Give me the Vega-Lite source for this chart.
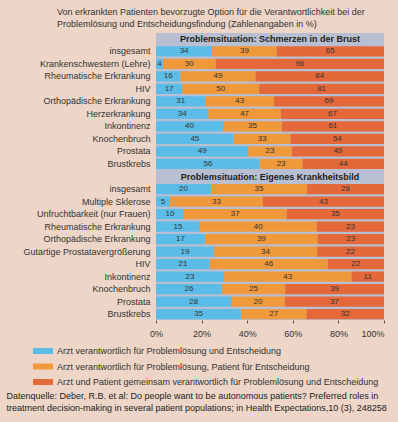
{
  "$schema": "https://vega.github.io/schema/vega-lite/v6.json",
  "width": 228,
  "height": 287,
  "autosize": {"type": "none"},
  "padding": {"left": 156, "top": 33, "right": 14, "bottom": 102},
  "background": "#edd5c7",
  "config": {"font": "Liberation Sans", "view": {"fill": "#b8bfd2", "stroke": null}},
  "title": {
    "text": ["Von erkrankten Patienten bevorzugte Option für die Verantwortlichkeit bei der", "Problemlösung und Entscheidungsfindung (Zahlenangaben in %)"],
    "anchor": "start",
    "frame": "group",
    "dx": -99,
    "fontSize": 9,
    "fontWeight": "normal",
    "color": "#333",
    "offset": 4,
    "lineHeight": 12
  },
  "layer": [
    {
      "data": {"values": [
        {"g": "1|insgesamt", "a": 34, "b": 39, "c": 65},
        {"g": "1|Krankenschwestern (Lehre)", "a": 4, "b": 30, "c": 96},
        {"g": "1|Rheumatische Erkrankung", "a": 16, "b": 49, "c": 84},
        {"g": "1|HIV", "a": 17, "b": 50, "c": 81},
        {"g": "1|Orthopädische Erkrankung", "a": 31, "b": 43, "c": 69},
        {"g": "1|Herzerkrankung", "a": 34, "b": 47, "c": 67},
        {"g": "1|Inkontinenz", "a": 40, "b": 35, "c": 61},
        {"g": "1|Knochenbruch", "a": 45, "b": 33, "c": 54},
        {"g": "1|Prostata", "a": 49, "b": 23, "c": 49},
        {"g": "1|Brustkrebs", "a": 56, "b": 23, "c": 44},
        {"g": "2|insgesamt", "a": 20, "b": 35, "c": 28},
        {"g": "2|Multiple Sklerose", "a": 5, "b": 33, "c": 43},
        {"g": "2|Unfruchtbarkeit (nur Frauen)", "a": 10, "b": 37, "c": 35},
        {"g": "2|Rheumatische Erkrankung", "a": 15, "b": 40, "c": 23},
        {"g": "2|Orthopädische Erkrankung", "a": 17, "b": 39, "c": 23},
        {"g": "2|Gutartige Prostatavergrößerung", "a": 19, "b": 34, "c": 22},
        {"g": "2|HIV", "a": 21, "b": 46, "c": 22},
        {"g": "2|Inkontinenz", "a": 23, "b": 43, "c": 11},
        {"g": "2|Knochenbruch", "a": 26, "b": 25, "c": 39},
        {"g": "2|Prostata", "a": 28, "b": 20, "c": 37},
        {"g": "2|Brustkrebs", "a": 35, "b": 27, "c": 32}
      ]},
      "transform": [
        {"fold": ["a", "b", "c"], "as": ["s", "v"]},
        {"stack": "v", "groupby": ["g"], "sort": [{"field": "s"}], "offset": "normalize", "as": ["v0", "v1"]}
      ],
      "layer": [
        {
          "mark": {"type": "bar"},
          "encoding": {
            "y": {
              "field": "g",
              "type": "nominal",
              "scale": {
                "domain": ["H1", "1|insgesamt", "1|Krankenschwestern (Lehre)", "1|Rheumatische Erkrankung", "1|HIV", "1|Orthopädische Erkrankung", "1|Herzerkrankung", "1|Inkontinenz", "1|Knochenbruch", "1|Prostata", "1|Brustkrebs", "H2", "2|insgesamt", "2|Multiple Sklerose", "2|Unfruchtbarkeit (nur Frauen)", "2|Rheumatische Erkrankung", "2|Orthopädische Erkrankung", "2|Gutartige Prostatavergrößerung", "2|HIV", "2|Inkontinenz", "2|Knochenbruch", "2|Prostata", "2|Brustkrebs"],
                "paddingInner": 0.18,
                "paddingOuter": 0.05
              },
              "axis": {
                "title": null,
                "domain": false,
                "ticks": false,
                "labelPadding": 6,
                "labelFontSize": 9,
                "labelColor": "#333",
                "labelExpr": "indexof(datum.value, '|') > 0 ? split(datum.value, '|')[1] : ''"
              }
            },
            "x": {
              "field": "v0",
              "type": "quantitative",
              "scale": {"domain": [0, 1], "nice": false},
              "axis": {
                "values": [0, 0.2, 0.4, 0.6, 0.8, 1],
                "format": "%",
                "domain": false,
                "grid": false,
                "tickSize": 3,
                "tickColor": "#555",
                "labelFontSize": 9,
                "labelColor": "#333",
                "labelPadding": 6,
                "labelAlign": {"condition": {"test": "datum.value == 1", "value": "right"}, "value": "center"},
                "title": ["Datenquelle: Deber, R.B. et al: Do people want to be autonomous patients? Preferred roles in", "treatment decision-making in several patient populations; in Health Expectations,10 (3), 248258"],
                "titleX": -150,
                "titleY": 71,
                "titleAlign": "left",
                "titleAnchor": "start",
                "titleBaseline": "top",
                "titleFontSize": 9,
                "titleFontWeight": "normal",
                "titleColor": "#222",
                "titleLineHeight": 12
              }
            },
            "x2": {"field": "v1"},
            "color": {
              "field": "s",
              "type": "nominal",
              "scale": {"domain": ["a", "b", "c"], "range": ["#5bbde7", "#f0993a", "#e5683a"]},
              "legend": {
                "orient": "none",
                "legendX": -123,
                "legendY": 313,
                "title": null,
                "direction": "vertical",
                "symbolType": "M-1,-0.6H3V0.6H-1Z",
                "symbolSize": 100,
                "symbolStrokeWidth": 0,
                "labelOffset": 14,
                "labelFontSize": 9,
                "labelColor": "#333",
                "labelLimit": 0,
                "rowPadding": 5.5,
                "labelExpr": "datum.value == 'a' ? 'Arzt verantwortlich für Problemlösung und Entscheidung' : datum.value == 'b' ? 'Arzt verantwortlich für Problemlösung, Patient für Entscheidung' : 'Arzt und Patient gemeinsam verantwortlich für Problemlösung und Entscheidung'"
              }
            }
          }
        },
        {
          "transform": [
            {"fold": ["v0", "v1"], "as": ["e", "p"]},
            {"aggregate": [{"op": "mean", "field": "p", "as": "m"}], "groupby": ["g", "s", "v"]}
          ],
          "mark": {"type": "text", "fontSize": 8, "color": "#333"},
          "encoding": {
            "y": {"field": "g", "type": "nominal"},
            "x": {"field": "m", "type": "quantitative"},
            "text": {"field": "v", "type": "quantitative"}
          }
        }
      ]
    },
    {
      "data": {"values": [
        {"g": "H1", "t": "Problemsituation: Schmerzen in der Brust"},
        {"g": "H2", "t": "Problemsituation: Eigenes Krankheitsbild"}
      ]},
      "mark": {"type": "text", "fontSize": 9, "fontWeight": "bold", "color": "#222"},
      "encoding": {
        "y": {"field": "g", "type": "nominal"},
        "x": {"datum": 0.5, "type": "quantitative"},
        "text": {"field": "t"}
      }
    }
  ]
}
